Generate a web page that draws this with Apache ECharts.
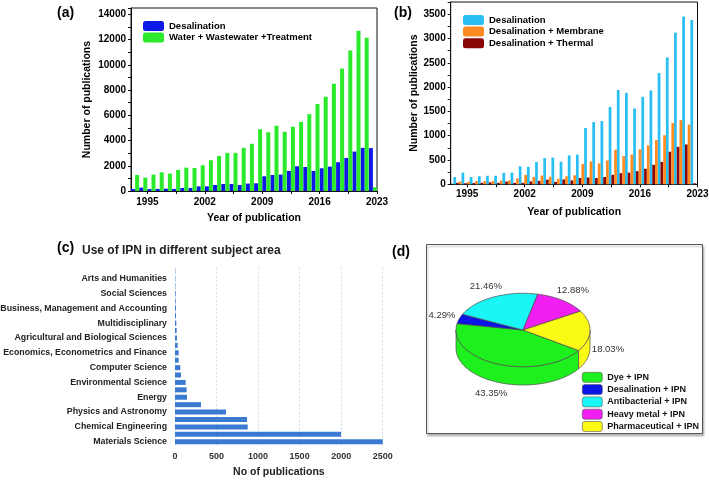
<!DOCTYPE html>
<html><head><meta charset="utf-8">
<script src="https://cdn.jsdelivr.net/npm/echarts@6/dist/echarts.min.js"></script>
<style>html,body{margin:0;padding:0;background:#fff}#c{width:709px;height:480px}</style>
</head><body><div id="c"></div>
<script>
// ---------- data ----------
const years = [1993,1994,1995,1996,1997,1998,1999,2000,2001,2002,2003,2004,2005,2006,2007,2008,2009,2010,2011,2012,2013,2014,2015,2016,2017,2018,2019,2020,2021,2022];
const yearTickLabels = [1995, 2002, 2009, 2016, 2023];
const yearTicks = [1995, 1998.5, 2002, 2005.5, 2009, 2012.5, 2016, 2019.5, 2023];

const desalA = [160,265,160,165,185,165,240,245,370,370,480,555,560,480,585,610,1165,1270,1300,1590,1960,1900,1590,1800,1930,2280,2620,3125,3420,3400];
const waterA = [1270,1060,1300,1480,1380,1670,1850,1830,2040,2440,2780,3020,3020,3420,3740,4900,4660,5170,4690,5090,5480,6090,6890,7470,8500,9700,11130,12700,12150,300];
const yTickLabelsA = [0,2000,4000,6000,8000,10000,12000,14000];

const desalB = [150,240,150,165,175,175,235,240,370,360,460,540,550,465,595,610,1160,1280,1300,1590,1940,1880,1560,1800,1930,2290,2610,3120,3450,3380];
const thermalB = [30,20,25,30,40,30,55,30,30,60,70,95,50,100,80,130,140,130,150,195,230,240,270,320,400,460,670,770,820,20];
const membraneB = [60,50,65,65,65,75,80,120,195,150,180,155,110,165,185,420,470,430,490,710,580,610,720,800,910,1010,1260,1320,1230,null];
const yTickLabelsB = [0,500,1000,1500,2000,2500,3000,3500];

const subjectNames = ['Materials Science','Chemistry','Chemical Engineering','Engineering','Physics and Astronomy','Biochemistry, Genetics and Molecular Biology','Energy','Medicine','Environmental Science','Pharmacology, Toxicology and Pharmaceutics','Computer Science','Earth and Planetary Sciences','Economics, Econometrics and Finance','Immunology and Microbiology','Agricultural and Biological Sciences','Mathematics','Multidisciplinary','Dentistry','Business, Management and Accounting','Health Professions','Social Sciences','Decision Sciences','Arts and Humanities','Nursing'];
const subjectValues = [2500,1998,875,867,614,313,144,140,128,72,64,44,44,32,24,20,16,12,12,8,8,4,4,3];

const pieNames = ['Dye + IPN','Desalination + IPN','Antibacterial + IPN','Heavy metal + IPN','Pharmaceutical + IPN'];
const pieValues = [43.35, 4.29, 21.46, 12.88, 18.03];

// ---------- styles ----------
const FONT = "'Liberation Sans', Arial, sans-serif";
const C_BLUE = '#0f19e6', C_GREEN = '#2bea2b';
const C_CYAN = '#29bff4', C_ORANGE = '#ff8a1f', C_DRED = '#8a0606';
const C_BAR = '#3b7ad2';
const pieColors = ['#1ef01e', '#0a14e6', '#1af5f5', '#f01ef0', '#fafa14'];
const plain = v => String(v);

// ---------- 3D pie geometry ----------
const PIE = {cx: 523, cy: 330, rx: 67, ry: 36.7, depth: 18.3, start: 34};
const pieTotal = pieValues.reduce((a, b) => a + b, 0);
const pieAngles = [];
(function () { let acc = PIE.start; pieValues.forEach(v => { const a0 = acc; acc += v / pieTotal * 360; pieAngles.push([a0, acc]); }); })();
function rimPt(deg, dy) { const t = deg * Math.PI / 180; return [PIE.cx + PIE.rx * Math.cos(t), PIE.cy + PIE.ry * Math.sin(t) + (dy || 0)]; }
function arcPts(a0, a1, dy) { const n = Math.max(2, Math.ceil(Math.abs(a1 - a0) / 2)); const pts = []; for (let i = 0; i <= n; i++) pts.push(rimPt(a0 + (a1 - a0) * i / n, dy)); return pts; }
function makeSliceRender(i) {
  return function (params, api) {
    const [a0, a1] = pieAngles[i];
    const color = pieColors[i];
    const children = [];
    for (let k = -1; k <= 2; k++) {
      const lo = Math.max(a0, k * 360), hi = Math.min(a1, k * 360 + 180);
      if (hi > lo) {
        children.push({type: 'polygon', shape: {points: arcPts(lo, hi, 0).concat(arcPts(hi, lo, PIE.depth))},
          style: {fill: color, stroke: '#4a4a4a', lineWidth: 0.7}});
      }
    }
    children.push({type: 'polygon', shape: {points: [[PIE.cx, PIE.cy]].concat(arcPts(a0, a1, 0))},
      style: {fill: color, stroke: '#4a4a4a', lineWidth: 0.7}});
    const mid = (a0 + a1) / 2, t = mid * Math.PI / 180;
    const s = Math.sin(t);
    const lx = PIE.cx + (PIE.rx + 18) * Math.cos(t);
    const ly = PIE.cy + (PIE.ry + 12) * s + (s > 0 ? PIE.depth : 0);
    children.push({type: 'text', style: {x: lx, y: ly, text: api.value(0).toFixed(2) + '%', fill: '#333',
      font: '9.5px ' + FONT, align: 'center', verticalAlign: 'middle'}});
    return {type: 'group', children};
  };
}

const axisText = {color: '#000', fontWeight: 'bold', fontFamily: FONT, fontSize: 10, formatter: plain};
const nameText = {color: '#000', fontWeight: 'bold', fontFamily: FONT, fontSize: 10.5};
const tStyle = s => ({fontSize: s, fontWeight: 'bold', color: '#000', fontFamily: FONT});

const option = {
  animation: false,
  textStyle: {fontFamily: FONT},
  title: [
    {text: '(a)', left: 57, top: 6, padding: 0, textStyle: tStyle(14)},
    {text: '(b)', left: 394, top: 6, padding: 0, textStyle: tStyle(14)},
    {text: '(c)', left: 57, top: 241, padding: 0, textStyle: tStyle(14)},
    {text: 'Use of IPN in different subject area', left: 82, top: 245, padding: 0, textStyle: {fontSize: 12, fontWeight: 'bold', color: '#222', fontFamily: FONT}},
    {text: '(d)', left: 392, top: 245, padding: 0, textStyle: tStyle(14)}
  ],
  legend: [
    {orient: 'vertical', left: 143, top: 21, padding: 0, itemWidth: 21, itemHeight: 10, itemGap: 1.5, selectedMode: false,
      textStyle: {fontSize: 9.5, fontWeight: 'bold', color: '#000', fontFamily: FONT},
      data: [{name: 'Desalination', itemStyle: {color: C_BLUE}}, {name: 'Water + Wastewater +Treatment', itemStyle: {color: C_GREEN}}]},
    {orient: 'vertical', left: 463, top: 15, padding: 0, itemWidth: 21, itemHeight: 10, itemGap: 1.6, selectedMode: false,
      textStyle: {fontSize: 9.5, fontWeight: 'bold', color: '#000', fontFamily: FONT},
      data: [{name: 'Desalination', itemStyle: {color: C_CYAN}}, {name: 'Desalination + Membrane', itemStyle: {color: C_ORANGE}}, {name: 'Desalination + Thermal', itemStyle: {color: C_DRED}}]},
    {orient: 'vertical', left: 582, top: 372, padding: 0, itemWidth: 20, itemHeight: 10, itemGap: 1.7, selectedMode: false,
      textStyle: {fontSize: 9, fontWeight: 'bold', color: '#111', fontFamily: FONT},
      data: pieNames.map((n, i) => ({name: n, itemStyle: {color: pieColors[i], borderColor: '#555', borderWidth: 0.6}}))}
  ],
  graphic: [
    {type: 'rect', z: -1, shape: {x: 426.5, y: 244.5, width: 276, height: 189}, style: {fill: '#fff', stroke: '#555', lineWidth: 1, shadowBlur: 2, shadowColor: 'rgba(0,0,0,0.25)', shadowOffsetX: 1, shadowOffsetY: 2}}
  ],
  grid: [
    {left: 131, top: 8, width: 246, height: 183, show: true, borderColor: '#111', borderWidth: 1, outerBoundsMode: 'none', containLabel: false},
    {left: 450.7, top: 2, width: 246.8, height: 182.3, show: true, borderColor: '#111', borderWidth: 1, outerBoundsMode: 'none', containLabel: false},
    {left: 453.4, top: 2, width: 245.2, height: 182.3, outerBoundsMode: 'none', containLabel: false},
    {left: 175, top: 267.6, width: 207.7, height: 177.8, outerBoundsMode: 'none', containLabel: false}
  ],
  xAxis: [
    {type: 'category', gridIndex: 0, data: years, show: false},
    {type: 'value', gridIndex: 0, min: 1993, max: 2023, position: 'bottom',
      axisLine: {show: true, lineStyle: {color: '#111'}},
      axisTick: {show: true, length: 3, customValues: yearTicks, lineStyle: {color: '#111'}},
      axisLabel: {customValues: yearTickLabels, margin: 6, ...axisText},
      splitLine: {show: false},
      name: 'Year of publication', nameLocation: 'middle', nameGap: 22, nameTextStyle: nameText},
    {type: 'value', gridIndex: 1, min: 1993, max: 2023, position: 'bottom',
      axisLine: {show: true, lineStyle: {color: '#111'}},
      axisTick: {show: true, length: 3, customValues: yearTicks, lineStyle: {color: '#111'}},
      axisLabel: {customValues: yearTickLabels, margin: 5, ...axisText},
      splitLine: {show: false},
      name: 'Year of publication', nameLocation: 'middle', nameGap: 22, nameTextStyle: nameText},
    {type: 'category', gridIndex: 2, data: years, show: false},
    {type: 'value', gridIndex: 3, min: 0, max: 2500, interval: 500,
      axisLine: {show: false}, axisTick: {show: false},
      axisLabel: {margin: 7, color: '#333', fontWeight: 'bold', fontSize: 9, fontFamily: FONT, formatter: plain},
      splitLine: {show: true, lineStyle: {color: '#c9d9e8', type: [2, 2], width: 1}},
      name: 'No of publications', nameLocation: 'middle', nameGap: 21,
      nameTextStyle: {color: '#222', fontWeight: 'bold', fontSize: 10.5, fontFamily: FONT}}
  ],
  yAxis: [
    {type: 'value', gridIndex: 0, min: 0, max: 14500, interval: 1000,
      axisLine: {show: true, lineStyle: {color: '#111'}},
      axisTick: {show: true, length: 3, lineStyle: {color: '#111'}},
      axisLabel: {customValues: yTickLabelsA, margin: 5, ...axisText},
      splitLine: {show: false},
      name: 'Number of publications', nameLocation: 'middle', nameGap: 38, nameTextStyle: nameText},
    {type: 'value', gridIndex: 1, min: 0, max: 3750, interval: 250,
      axisLine: {show: true, lineStyle: {color: '#111'}},
      axisTick: {show: true, length: 3, lineStyle: {color: '#111'}},
      axisLabel: {customValues: yTickLabelsB, margin: 5, ...axisText},
      splitLine: {show: false},
      name: 'Number of publications', nameLocation: 'middle', nameGap: 31, nameTextStyle: nameText},
    {type: 'value', gridIndex: 2, min: 0, max: 3750, show: false},
    {type: 'category', gridIndex: 3, data: subjectNames,
      axisLine: {show: false}, axisTick: {show: false},
      axisLabel: {interval: 1, margin: 8, color: '#222', fontWeight: 'bold', fontSize: 8.8, fontFamily: FONT}}
  ],
  series: [
    {type: 'bar', name: 'Desalination', xAxisIndex: 0, yAxisIndex: 0, data: desalA, barWidth: 4, barGap: '0%', itemStyle: {color: C_BLUE}},
    {type: 'bar', name: 'Water + Wastewater +Treatment', xAxisIndex: 0, yAxisIndex: 0, data: waterA, barWidth: 4, barGap: '0%', itemStyle: {color: C_GREEN}},
    {type: 'bar', name: 'Desalination', xAxisIndex: 3, yAxisIndex: 2, data: desalB, barWidth: 2.75, barGap: '0%', itemStyle: {color: C_CYAN}},
    {type: 'bar', name: 'Desalination + Thermal', xAxisIndex: 3, yAxisIndex: 2, data: thermalB, barWidth: 2.75, barGap: '0%', itemStyle: {color: C_DRED}},
    {type: 'bar', name: 'Desalination + Membrane', xAxisIndex: 3, yAxisIndex: 2, data: membraneB, barWidth: 2.75, barGap: '0%', itemStyle: {color: C_ORANGE}},
    {type: 'bar', name: 'Subject', xAxisIndex: 4, yAxisIndex: 3, data: subjectValues, barWidth: 5, itemStyle: {color: C_BAR}}
  ].concat(pieNames.map((n, i) => ({
    type: 'custom', name: n, coordinateSystem: 'none', data: [pieValues[i]],
    itemStyle: {color: pieColors[i]}, renderItem: makeSliceRender(i)
  })))
};

const chart = echarts.init(document.getElementById('c'), null, {renderer: 'canvas'});
chart.setOption(option);
</script>
</body></html>
